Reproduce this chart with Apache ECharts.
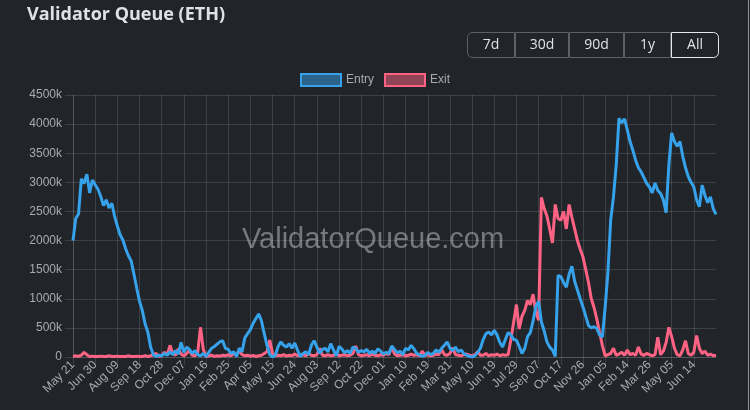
<!DOCTYPE html>
<html>
<head>
<meta charset="utf-8">
<script src="https://cdn.jsdelivr.net/npm/echarts@6/dist/echarts.min.js"></script>
<style>
html,body{margin:0;padding:0;background:#212529;}
#chart{width:750px;height:410px;}
</style>
</head>
<body>
<div id="chart"></div>
<script>
// Dates: one category every 5 days, starting May 21 (2023)
const startDate = Date.UTC(2023, 4, 21);
const stepDays = 5;
const pointCount = 233;
const labelEvery = 8;      // a tick label every 40 days
const lastLabelIndex = 224; // "Jun 14"
const monthNames = ['Jan','Feb','Mar','Apr','May','Jun','Jul','Aug','Sep','Oct','Nov','Dec'];
const categories = [];
for (let i = 0; i < pointCount; i++) {
  const d = new Date(startDate + i * stepDays * 86400000);
  categories.push(monthNames[d.getUTCMonth()] + ' ' + String(d.getUTCDate()).padStart(2, '0'));
}

// Values in thousands of ETH
const entryQueue = [
2000,2380,2460,3060,2980,3140,2820,3040,2960,2880,
2760,2600,2700,2560,2640,2420,2250,2100,2010,1860,
1740,1650,1420,1180,960,800,570,430,170,40,
10,30,20,60,30,90,40,110,50,250,
80,170,130,60,110,40,20,60,10,80,
150,180,220,260,280,150,130,60,90,10,
150,90,330,400,470,580,660,740,620,400,
200,40,0,30,180,260,200,170,230,150,
240,120,10,60,90,40,200,280,170,60,
130,150,90,230,120,20,180,140,70,110,
60,170,150,80,110,90,130,60,100,60,
140,100,50,80,60,190,130,70,100,40,
150,120,200,140,60,40,10,30,80,40,
60,120,80,150,200,260,150,110,170,90,
120,60,30,10,0,20,80,150,300,400,
430,380,460,380,250,170,300,420,380,300,
290,180,60,150,350,420,620,870,960,600,
450,260,170,120,10,1400,1380,1280,1200,1420,
1560,1300,1150,1000,860,700,540,500,520,490,
380,340,850,1450,2350,2750,3300,4100,4020,4090,
3900,3700,3550,3380,3250,3180,3080,2980,2920,2820,
2990,2860,2810,2700,2480,3300,3850,3700,3620,3700,
3450,3250,3100,3000,2920,2700,2580,2950,2780,2650,
2750,2550,2450
];

const exitQueue = [
10,20,10,30,80,40,10,15,10,10,
15,10,10,20,10,10,15,10,10,10,
20,10,10,15,10,10,20,10,20,40,
60,10,30,80,40,200,60,30,140,50,
20,60,110,30,20,80,510,130,10,20,
30,10,20,15,30,20,40,20,60,30,
110,40,20,30,15,25,10,20,30,60,
90,290,60,20,30,20,40,15,30,20,
50,20,30,40,20,60,30,20,40,150,
30,20,40,20,30,50,20,30,40,20,
30,60,190,40,20,30,40,20,50,30,
20,40,30,60,40,180,50,20,30,40,
20,30,50,30,40,20,100,30,40,20,
30,50,40,130,40,30,60,160,40,30,
20,40,50,30,20,40,90,30,30,60,
20,40,30,50,20,40,30,40,300,600,
900,480,700,800,970,900,1080,760,630,2740,
2550,2420,2200,1960,2620,2380,2350,2500,2200,2620,
2400,2200,2000,1850,1720,1500,1280,1000,850,650,
420,200,20,40,60,150,30,50,80,30,
120,40,60,30,170,50,30,60,40,20,
40,340,40,100,250,510,350,150,40,20,
120,280,60,30,80,370,150,60,100,30,
50,20,30
];

const rangeButtons = ['7d','30d','90d','1y','All'];
const activeButton = 'All';

const buttonWidths = [48, 54, 55, 47, 48];
const gridColor = 'rgba(255,255,255,0.12)';
const labelColor = '#a8abae';
const showTick = (idx) => idx % labelEvery === 0 && idx <= lastLabelIndex;

const graphics = [];
let bx = 467;
rangeButtons.forEach((b, i) => {
  const w = buttonWidths[i];
  const active = b === activeButton;
  graphics.push({
    type: 'rect', z: active ? 12 : 10,
    shape: {x: bx + 0.5, y: 32.5, width: w - 1, height: 25, r: i === 0 ? [5,0,0,5] : (i === rangeButtons.length - 1 ? [0,5,5,0] : 0)},
    style: {fill: '#212529', stroke: active ? '#e6e8ea' : '#5c6166', lineWidth: 1}
  });
  graphics.push({
    type: 'text', z: 13,
    style: {x: bx + w / 2, y: 45, text: b, fill: '#dee2e6', font: '14px "Open Sans", "Noto Sans", sans-serif', align: 'center', verticalAlign: 'middle'}
  });
  bx += w;
});
graphics.push({
  type: 'text', z: 0,
  style: {x: 373, y: 240, text: 'ValidatorQueue.com', fill: 'rgba(200,202,205,0.5)', font: '29px "Liberation Sans", Arial, sans-serif', align: 'center', verticalAlign: 'middle'}
});
graphics.push({
  type: 'line', z: 20,
  shape: {x1: 748.5, y1: 0, x2: 748.5, y2: 410},
  style: {stroke: '#8f9296', lineWidth: 1}
});

const chart = echarts.init(document.getElementById('chart'), null, {renderer: 'canvas'});
chart.setOption({
  backgroundColor: '#212529',
  animation: false,
  title: {
    text: 'Validator Queue (ETH)',
    left: 22, top: 1,
    textStyle: {color: '#dee2e6', fontSize: 18, fontWeight: 'bold', fontFamily: '"Open Sans", "Noto Sans", sans-serif'}
  },
  legend: {
    left: 'center', top: 68,
    itemWidth: 40, itemHeight: 12, itemGap: 10,
    icon: 'rect',
    textStyle: {color: labelColor, fontSize: 12, fontFamily: '"Liberation Sans", Arial, sans-serif'},
    data: [
      {name: 'Entry', itemStyle: {color: 'rgba(54,162,235,0.5)', borderColor: '#36a2eb', borderWidth: 2}},
      {name: 'Exit', itemStyle: {color: 'rgba(255,99,132,0.5)', borderColor: '#ff6384', borderWidth: 2}}
    ]
  },
  graphic: graphics,
  grid: {left: 73, right: 34, top: 95, bottom: 53, containLabel: false},
  xAxis: {
    type: 'category',
    data: categories,
    boundaryGap: false,
    axisLine: {show: true, lineStyle: {color: gridColor}},
    axisTick: {show: true, length: 8, interval: showTick, lineStyle: {color: gridColor}},
    splitLine: {show: true, interval: showTick, lineStyle: {color: gridColor}},
    axisLabel: {interval: showTick, rotate: 45, color: labelColor, fontSize: 12, margin: 6, fontFamily: '"Liberation Sans", Arial, sans-serif'}
  },
  yAxis: {
    type: 'value',
    min: 0, max: 4500, interval: 500,
    axisLine: {show: true, lineStyle: {color: gridColor}},
    axisTick: {show: true, length: 8, lineStyle: {color: gridColor}},
    splitLine: {show: true, lineStyle: {color: gridColor}},
    axisLabel: {color: labelColor, fontSize: 12, margin: 11, fontFamily: '"Liberation Sans", Arial, sans-serif',
      formatter: v => v === 0 ? '0' : v + 'k'}
  },
  series: [
    {
      name: 'Exit', type: 'line', data: exitQueue, showSymbol: false, z: 2,
      itemStyle: {color: '#ff6384'},
      lineStyle: {color: '#ff6384', width: 3}
    },
    {
      name: 'Entry', type: 'line', data: entryQueue, showSymbol: false, z: 3,
      itemStyle: {color: '#36a2eb'},
      lineStyle: {color: '#36a2eb', width: 3}
    }
  ]
});
</script>
</body>
</html>
